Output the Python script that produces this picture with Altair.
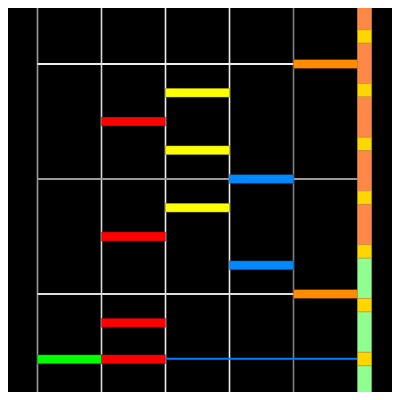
import altair as alt
import pandas as pd

# Note bars: start beat, end beat, pitch (semitones), colour
bar_x = [4, 2, 1, 2, 3, 2, 1, 3, 4, 1, 0, 1]
bar_x2 = [5, 3, 2, 3, 4, 3, 2, 4, 5, 2, 1, 2]
bar_pitch = [24, 21, 18, 15, 12, 9, 6, 3, 0, -3, -6.8, -6.8]
bar_color = ["#ff8c00", "#ffff00", "#ff0000", "#ffff00", "#0088ff", "#ffff00",
             "#ff0000", "#0088ff", "#ff8c00", "#ff0000", "#00ff00", "#ff0000"]

# Vertical grid lines
vline_x = [0, 1, 2, 3, 4]
vline_color = ["#999999", "#d8d8d8", "#eeeeee", "#eeeeee", "#808080"]

# Horizontal lines
hline_pitch = [24, 12, 0, -6.75]
hline_x = [0, 0, 0, 2]
hline_x2 = [5, 5, 5, 5]
hline_color = ["#eeeeee", "#999999", "#dddddd", "#0080ff"]

# Side ruler cells (in beats)
cell_start = [-3, 0, 1, 4, 5, 8, 9, 12, 13, 16, 17, 20, 21, 24, 25]
cell_end = [0, 1, 4, 5, 8, 9, 12, 13, 16, 17, 20, 21, 24, 25, 28]
cell_color = ["#ff8847", "#ffd700", "#ff8847", "#ffd700", "#ff8847", "#ffd700",
              "#ff8847", "#ffd700", "#ff8847", "#ffd700", "#8fff8f", "#ffd700",
              "#8fff8f", "#ffd700", "#8fff8f"]

bars = pd.DataFrame({"x": bar_x, "x2": bar_x2, "p": bar_pitch, "c": bar_color})
vlines = pd.DataFrame({"x": vline_x, "c": vline_color})
hlines = pd.DataFrame({"p": hline_pitch, "x": hline_x, "x2": hline_x2, "c": hline_color})
cells = pd.DataFrame({"s": cell_start, "e": cell_end, "c": cell_color})

xs = alt.Scale(domain=[-0.4609, 5.539], nice=False, zero=False)
ys = alt.Scale(domain=[-10.226, 29.845], nice=False, zero=False)
cs = alt.Scale(domain=[-1.6146, 26.957], nice=False, zero=False, reverse=True)

vl = alt.Chart(vlines).mark_rule(strokeWidth=1.6).encode(
    x=alt.X("x:Q", scale=xs, axis=None),
    color=alt.Color("c:N", scale=None),
)

hl = alt.Chart(hlines).mark_rule(strokeWidth=2).encode(
    x=alt.X("x:Q", scale=xs, axis=None),
    x2="x2:Q",
    y=alt.Y("p:Q", scale=ys, axis=None),
    color=alt.Color("c:N", scale=None),
)

br = alt.Chart(bars).transform_calculate(
    lo="datum.p - 0.47", hi="datum.p + 0.47"
).mark_rect(stroke="black", strokeOpacity=0.25, strokeWidth=1).encode(
    x=alt.X("x:Q", scale=xs, axis=None),
    x2="x2:Q",
    y=alt.Y("lo:Q", scale=ys, axis=None),
    y2="hi:Q",
    color=alt.Color("c:N", scale=None),
)

base = alt.layer(vl, hl, br)

col = alt.Chart(cells).transform_calculate(
    a="5", b="5.22"
).mark_rect(stroke="#c89a40", strokeOpacity=0.6, strokeWidth=1).encode(
    x=alt.X("a:Q", scale=xs, axis=None),
    x2="b:Q",
    y=alt.Y("s:Q", scale=cs, axis=None),
    y2="e:Q",
    color=alt.Color("c:N", scale=None),
)

chart = alt.layer(base, col).resolve_scale(y="independent").properties(
    width=384, height=384, background="black", padding=0,
    autosize=alt.AutoSizeParams(type="none"),
).configure_view(stroke=None)

chart.save("out.html", embed_options={"renderer": "svg", "actions": False})
